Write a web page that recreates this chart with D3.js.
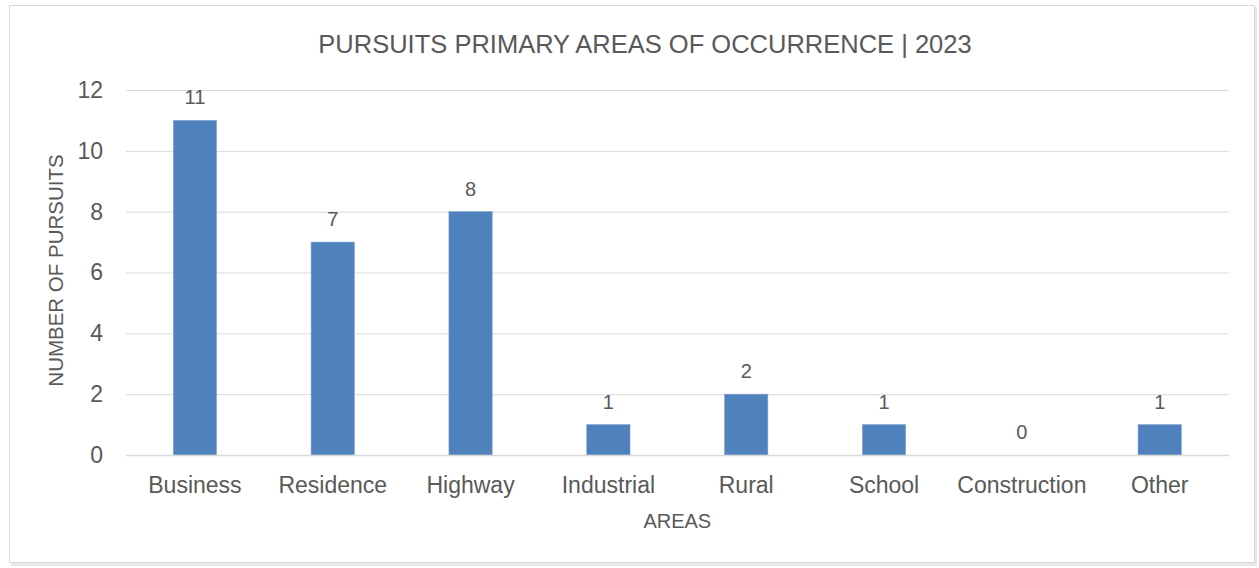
<!DOCTYPE html>
<html>
<head>
<meta charset="utf-8">
<script src="https://cdn.jsdelivr.net/npm/d3@7"></script>
<style>
  html, body { margin: 0; padding: 0; background: #ffffff; }
  svg { display: block; }
  text { font-family: "Liberation Sans", Arial, sans-serif; fill: #595959; }
</style>
</head>
<body>
<svg id="chart" width="1259" height="568"></svg>
<script>
const categories = ["Business", "Residence", "Highway", "Industrial", "Rural", "School", "Construction", "Other"];
const values = [11, 7, 8, 1, 2, 1, 0, 1];
const yTicks = [0, 2, 4, 6, 8, 10, 12];
const titleText = "PURSUITS PRIMARY AREAS OF OCCURRENCE | 2023";
const xTitle = "AREAS";
const yTitle = "NUMBER OF PURSUITS";

const svg = d3.select("#chart");
const W = 1259, H = 568;
const plot = { left: 126, right: 1228.6, top: 90, bottom: 455 };

// frame with soft shadow
svg.append("rect").attr("x", 11).attr("y", 7).attr("width", 1246).attr("height", 559)
  .attr("fill", "#e8e8e8");
svg.append("rect").attr("x", 9.5).attr("y", 5.5).attr("width", 1245).attr("height", 557)
  .attr("fill", "#ffffff").attr("stroke", "#d9d9d9").attr("stroke-width", 1);

const x = d3.scaleBand().domain(categories).range([plot.left, plot.right]).paddingInner(0.686).paddingOuter(0.343);
const y = d3.scaleLinear().domain([0, 12]).range([plot.bottom, plot.top]);

// gridlines
const yAxis = d3.axisLeft(y).tickValues(yTicks).tickSize(-(plot.right - plot.left)).tickPadding(23).tickFormat(d3.format("d"));
const gy = svg.append("g").attr("transform", `translate(${plot.left},0)`).call(yAxis);
gy.select(".domain").remove();
gy.selectAll(".tick line").attr("stroke", "#d9d9d9").attr("stroke-width", 1);
gy.selectAll(".tick text").attr("font-size", "23px").attr("fill", "#595959")
  .attr("font-family", "Liberation Sans, Arial, sans-serif");

// bars
svg.append("g").selectAll("rect").data(categories).join("rect")
  .attr("x", d => x(d))
  .attr("y", (d, i) => y(values[i]))
  .attr("width", x.bandwidth())
  .attr("height", (d, i) => y(0) - y(values[i]))
  .attr("fill", "#4f81bd")
  .attr("stroke", "#7ea3d1").attr("stroke-width", 0.6);

// x axis
const xAxis = d3.axisBottom(x).tickSize(0).tickPadding(22);
const gx = svg.append("g").attr("transform", `translate(0,${plot.bottom})`).call(xAxis);
gx.select(".domain").attr("stroke", "#d9d9d9").attr("stroke-width", 1.5);
gx.selectAll(".tick text").attr("font-size", "23px").attr("fill", "#595959")
  .attr("font-family", "Liberation Sans, Arial, sans-serif");

// data labels
svg.append("g").selectAll("text").data(categories).join("text")
  .attr("x", d => x(d) + x.bandwidth() / 2)
  .attr("y", (d, i) => y(values[i]) - 16)
  .attr("text-anchor", "middle")
  .attr("font-size", "20px")
  .text((d, i) => values[i]);

// titles
svg.append("text").attr("x", 645).attr("y", 53).attr("text-anchor", "middle")
  .attr("font-size", "25.5px").text(titleText);
svg.append("text").attr("x", (plot.left + plot.right) / 2).attr("y", 528).attr("text-anchor", "middle")
  .attr("font-size", "20px").text(xTitle);
svg.append("text").attr("transform", `translate(63,${(plot.top + plot.bottom) / 2 - 2}) rotate(-90)`)
  .attr("text-anchor", "middle").attr("font-size", "20.5px").text(yTitle);
</script>
</body>
</html>
